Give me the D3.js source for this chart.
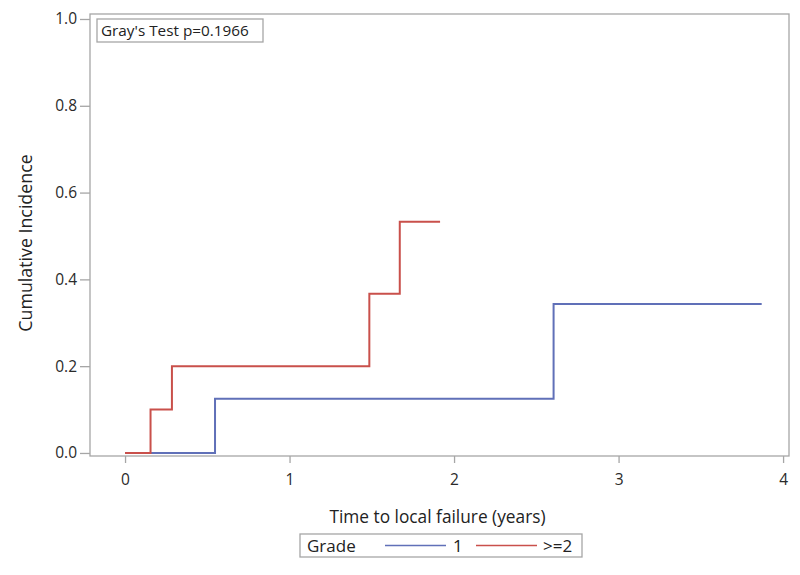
<!DOCTYPE html>
<html><head><meta charset="utf-8">
<script src="https://cdn.jsdelivr.net/npm/d3@7"></script>
<style>body{margin:0;background:#fff}svg{display:block}</style>
</head><body>
<svg id="chart" width="800" height="575"></svg>
<script>
// Step data: times where the curve jumps and the value after each jump
const grade1Times = [0, 0.547, 2.605, 3.87];
const grade1Values = [0, 0.125, 0.343, 0.343];
const grade2Times = [0, 0.155, 0.285, 1.485, 1.67, 1.915];
const grade2Values = [0, 0.1, 0.2, 0.367, 0.533, 0.533];
const xTicks = [0, 1, 2, 3, 4];
const yTicks = [0, 0.2, 0.4, 0.6, 0.8, 1.0];
const seriesNames = ["1", ">=2"];
const seriesColors = ["#6070b8", "#c9504b"];
const pText = "Gray's Test p=0.1966";

(function(){
const svg = d3.select("#chart");
const FONT = "'Open Sans', sans-serif";
const pl = 90, pr = 789, pt = 14, pb = 456;
const x = d3.scaleLinear().domain([-0.213, 4.036]).range([pl, pr]);
const y = d3.scaleLinear().domain([-0.007, 1.0115]).range([pb, pt]);

// frame
svg.append("rect").attr("x", pl).attr("y", pt).attr("width", pr-pl).attr("height", pb-pt)
  .attr("fill", "none").attr("stroke", "#a6a6a6").attr("stroke-width", 1.3);

// axes
const xAxis = svg.append("g").attr("transform", `translate(0,${pb})`)
  .call(d3.axisBottom(x).tickValues(xTicks).tickFormat(d3.format("d")).tickSize(7).tickSizeOuter(0));
const yAxis = svg.append("g").attr("transform", `translate(${pl},0)`)
  .call(d3.axisLeft(y).tickValues(yTicks).tickFormat(d3.format(".1f")).tickSize(10).tickPadding(3).tickSizeOuter(0));
[xAxis, yAxis].forEach(a => {
  a.select(".domain").remove();
  a.selectAll(".tick line").attr("stroke", "#a6a6a6").attr("stroke-width", 1.3);
  a.selectAll(".tick text").attr("fill", "#2a2a2a").attr("font-family", FONT).attr("font-size", 15.5);
});
xAxis.selectAll(".tick text").attr("dy", "1.25em");

// axis labels
svg.append("text").attr("x", (pl+pr)/2 - 2).attr("y", 523).attr("text-anchor", "middle")
  .attr("font-family", FONT).attr("font-size", 17.3).attr("fill", "#222").text("Time to local failure (years)");
svg.append("text").attr("transform", `translate(32,243) rotate(-90)`).attr("text-anchor", "middle")
  .attr("font-family", FONT).attr("font-size", 17.8).attr("fill", "#222").text("Cumulative Incidence");

// step lines
const line = d3.line().x(d => x(d[0])).y(d => y(d[1])).curve(d3.curveStepAfter);
const series = [
  d3.zip(grade1Times, grade1Values),
  d3.zip(grade2Times, grade2Values)
];
series.forEach((s, i) => {
  svg.append("path").datum(s).attr("d", line).attr("fill", "none")
    .attr("stroke", seriesColors[i]).attr("stroke-width", 2);
});

// p-value box
const pg = svg.append("g");
pg.append("rect").attr("x", 97).attr("y", 19).attr("width", 166).attr("height", 23)
  .attr("fill", "#fff").attr("stroke", "#a6a6a6").attr("stroke-width", 1.3);
pg.append("text").attr("x", 101).attr("y", 36).attr("font-family", FONT).attr("font-size", 15.3)
  .attr("fill", "#222").text(pText);

// legend
const lg = svg.append("g");
lg.append("rect").attr("x", 300).attr("y", 534).attr("width", 282).attr("height", 23)
  .attr("fill", "#fff").attr("stroke", "#a6a6a6").attr("stroke-width", 1.3);
lg.append("text").attr("x", 307).attr("y", 552).attr("font-family", FONT).attr("font-size", 17)
  .attr("fill", "#222").text("Grade");
const legX = [[385, 446, 453], [476, 537, 543]];
seriesNames.forEach((n, i) => {
  lg.append("line").attr("x1", legX[i][0]).attr("x2", legX[i][1]).attr("y1", 545.5).attr("y2", 545.5)
    .attr("stroke", seriesColors[i]).attr("stroke-width", 1.6);
  lg.append("text").attr("x", legX[i][2]).attr("y", 552).attr("font-family", FONT).attr("font-size", 17)
    .attr("fill", "#222").text(n);
});
})();
</script>
</body></html>
